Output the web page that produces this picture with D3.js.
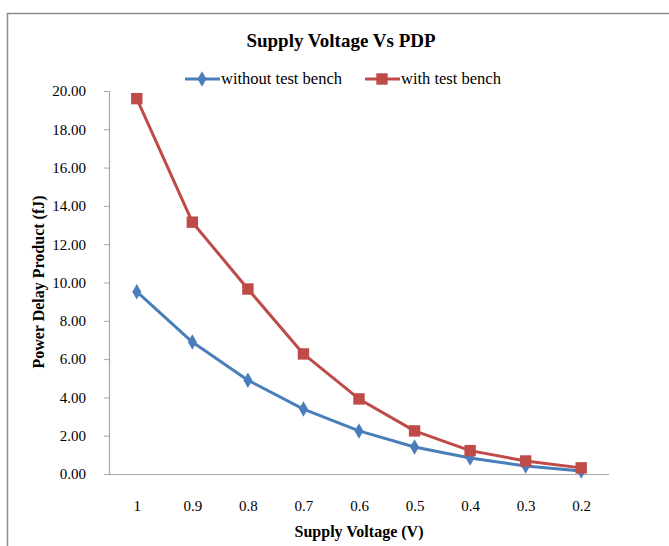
<!DOCTYPE html>
<html>
<head>
<meta charset="utf-8">
<script src="https://cdn.jsdelivr.net/npm/d3@7"></script>
<style>
  body { margin: 0; background: #fff; }
  svg text { font-family: "Liberation Serif", "Times New Roman", serif; fill: #000; }
</style>
</head>
<body>
<div id="chart"></div>
<script>
// data
var voltages = ["1", "0.9", "0.8", "0.7", "0.6", "0.5", "0.4", "0.3", "0.2"];
var withoutBench = [9.52, 6.89, 4.90, 3.39, 2.25, 1.41, 0.84, 0.42, 0.16];
var withBench = [19.6, 13.15, 9.66, 6.27, 3.92, 2.25, 1.22, 0.68, 0.32];
var yTicks = [0, 2, 4, 6, 8, 10, 12, 14, 16, 18, 20];
var seriesNames = ["without test bench", "with test bench"];

var W = 669, H = 546;
var margin = {top: 91, right: 60, bottom: 72, left: 109},
    width = 609 - margin.left,
    height = 474 - margin.top;

var svg = d3.select("#chart").append("svg")
    .attr("width", W)
    .attr("height", H);

// outer chart border (right and bottom run off the picture)
svg.append("path")
    .attr("d", "M7.5,546 V13.5 H669")
    .attr("fill", "none")
    .attr("stroke", "#8c8c8c")
    .attr("stroke-width", 1.5);

var g = svg.append("g")
    .attr("transform", "translate(" + margin.left + "," + margin.top + ")");

var x = d3.scalePoint()
    .domain(voltages)
    .range([0, width])
    .padding(0.5);

var y = d3.scaleLinear()
    .domain([0, 20])
    .range([height, 0]);

// y axis
var yAxis = g.append("g")
    .call(d3.axisLeft(y).tickValues(yTicks).tickSize(5).tickPadding(18)
      .tickFormat(d3.format(".2f")));
yAxis.selectAll("text").style("font-size", "15px");

// x axis
var xAxis = g.append("g")
    .attr("transform", "translate(0," + height + ")")
    .call(d3.axisBottom(x).tickSize(0).tickPadding(26));
xAxis.selectAll("text").style("font-size", "15px");
xAxis.select(".domain").attr("d", "M0,0.5H" + width);

g.selectAll(".domain").attr("stroke", "#a6a6a6").attr("stroke-width", 1.2);
g.selectAll(".tick line").attr("stroke", "#a6a6a6");

var series = [
  {name: seriesNames[0], values: withoutBench, color: "#4a7ebb", shape: d3.symbolDiamond, size: 70},
  {name: seriesNames[1], values: withBench, color: "#be4b48", shape: d3.symbolSquare, size: 130}
];

var line = d3.line()
    .x(function(d, i) { return x(voltages[i]); })
    .y(function(d) { return y(d); });

series.forEach(function(s) {
  g.append("path")
    .datum(s.values)
    .attr("fill", "none")
    .attr("stroke", s.color)
    .attr("stroke-width", 3)
    .attr("stroke-linejoin", "round")
    .attr("d", line);

  g.selectAll(null)
    .data(s.values)
    .enter().append("path")
      .attr("transform", function(d, i) { return "translate(" + x(voltages[i]) + "," + y(d) + ")"; })
      .attr("d", d3.symbol().type(s.shape).size(s.size))
      .attr("fill", s.color);
});

// title
svg.append("text")
    .attr("x", 341)
    .attr("y", 47)
    .attr("text-anchor", "middle")
    .style("font-size", "19px")
    .style("font-weight", "bold")
    .text("Supply Voltage Vs PDP");

// legend
var legendX = [185, 365];
series.forEach(function(s, i) {
  var lg = svg.append("g").attr("transform", "translate(" + legendX[i] + ",79)");
  lg.append("line")
    .attr("x1", 0).attr("x2", 35)
    .attr("stroke", s.color).attr("stroke-width", 3);
  lg.append("path")
    .attr("transform", "translate(17,0)")
    .attr("d", d3.symbol().type(s.shape).size(s.size))
    .attr("fill", s.color);
  lg.append("text")
    .attr("x", 36)
    .attr("y", 5)
    .style("font-size", "16.5px")
    .text(s.name);
});

// axis titles
svg.append("text")
    .attr("transform", "translate(44,282) rotate(-90)")
    .attr("text-anchor", "middle")
    .style("font-size", "16px")
    .style("font-weight", "bold")
    .text("Power Delay Product (fJ)");

svg.append("text")
    .attr("x", 359)
    .attr("y", 537)
    .attr("text-anchor", "middle")
    .style("font-size", "16px")
    .style("font-weight", "bold")
    .text("Supply Voltage (V)");
</script>
</body>
</html>
